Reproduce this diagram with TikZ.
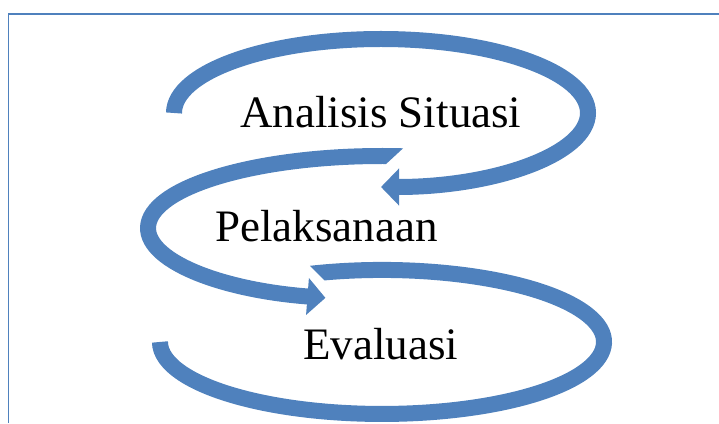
\documentclass[tikz,border=0pt]{standalone}
\usepackage{fontspec}
\setmainfont{Liberation Serif}
\usetikzlibrary{arrows.meta}
\definecolor{bandblue}{RGB}{79,129,189}

\begin{document}
\begin{tikzpicture}[
  x=1pt, y=1pt,
  band/.style={draw=bandblue, line width=16pt},
  bandarrow/.style={band, -{Triangle[length=18pt, width=36pt]}},
  lbl/.style={font=\fontsize{45}{54}\selectfont, inner sep=0pt, anchor=base west},
]
\useasboundingbox (0,0) rectangle (719,423);
\draw[bandblue, line width=1.5pt] (8.5,0) -- (8.5,409) -- (719,409);
\coordinate (start1) at (174,310);
\coordinate (start2) at (406.5,266.6);
\coordinate (start3) at (298.8,147.8);
\draw[bandarrow] (start1) arc[start angle=180, end angle=-90, x radius=207pt, y radius=74pt];
% slanted tails
\begin{scope}
  \clip (-10,-10) -- (-10,433) -- (567,426) -- (320,198) -- (450,-10) -- cycle;
  \draw[bandarrow] (start2) arc[start angle=84, end angle=256, x radius=234pt, y radius=72pt];
\end{scope}
\begin{scope}
  \clip (-10,-10) -- (-10,130) -- (337,130) -- (250,217) -- (250,433) -- (729,433) -- (729,-10) -- cycle;
  \draw[band] (start3) arc[start angle=112, end angle=-180, x radius=222pt, y radius=72pt];
\end{scope}
\node[lbl] (analisis) at (240,295) {Analisis Situasi};
\node[lbl] (pelaksanaan) at (215,181) {Pelaksanaan};
\node[lbl] (evaluasi) at (303,64) {Evaluasi};
\end{tikzpicture}
\end{document}
